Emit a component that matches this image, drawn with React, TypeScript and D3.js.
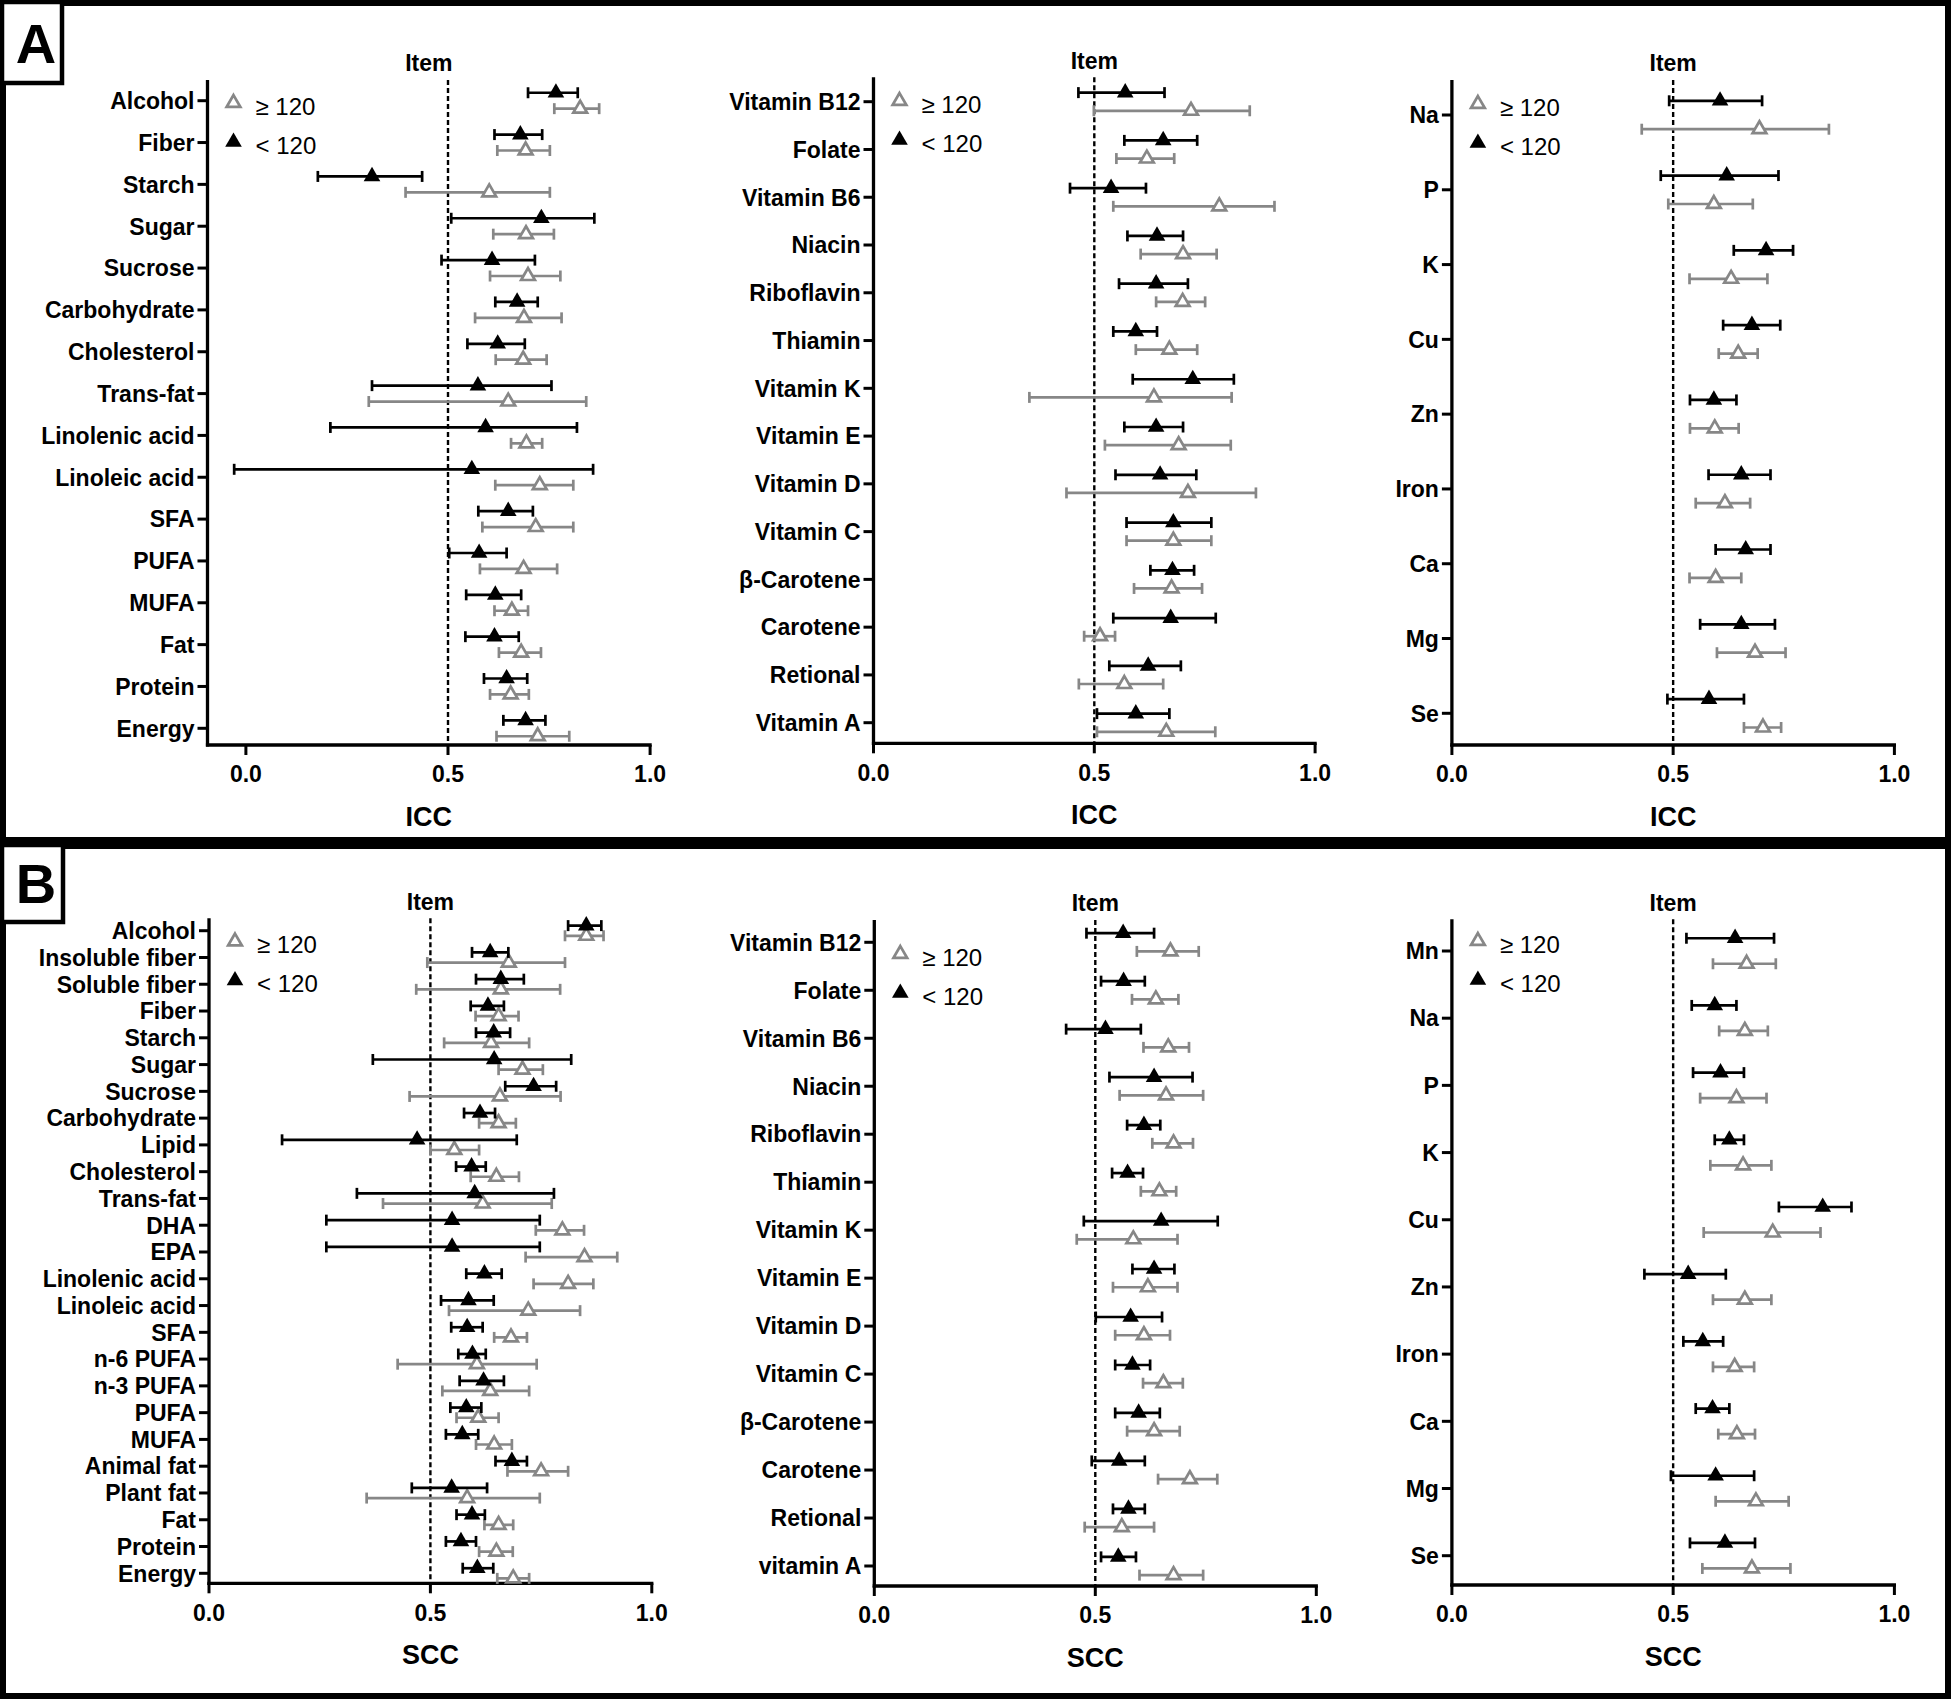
import React from 'react';
import * as d3 from 'd3';

const FONT = '"Liberation Sans", Arial, Helvetica, sans-serif';
const GREY = '#878787';
const BLACK = '#000';

// ---------- Panel A : ICC ----------
// each entry: [lower CI, estimate, upper CI]
const iccMacroItems = ['Alcohol', 'Fiber', 'Starch', 'Sugar', 'Sucrose', 'Carbohydrate', 'Cholesterol', 'Trans-fat', 'Linolenic acid', 'Linoleic acid', 'SFA', 'PUFA', 'MUFA', 'Fat', 'Protein', 'Energy'];
const iccMacroLt = [[0.698, 0.767, 0.821], [0.615, 0.679, 0.733], [0.178, 0.312, 0.436], [0.508, 0.731, 0.862], [0.484, 0.609, 0.715], [0.617, 0.671, 0.722], [0.548, 0.623, 0.69], [0.312, 0.574, 0.756], [0.209, 0.593, 0.819], [-0.029, 0.559, 0.859], [0.575, 0.649, 0.71], [0.503, 0.577, 0.645], [0.545, 0.617, 0.681], [0.543, 0.615, 0.675], [0.589, 0.645, 0.696], [0.637, 0.692, 0.741]];
const iccMacroGe = [[0.763, 0.827, 0.874], [0.622, 0.692, 0.752], [0.395, 0.602, 0.752], [0.612, 0.693, 0.762], [0.604, 0.698, 0.778], [0.567, 0.688, 0.781], [0.618, 0.686, 0.744], [0.304, 0.649, 0.842], [0.656, 0.694, 0.733], [0.617, 0.727, 0.81], [0.585, 0.717, 0.81], [0.579, 0.687, 0.77], [0.615, 0.658, 0.698], [0.626, 0.681, 0.73], [0.604, 0.655, 0.7], [0.62, 0.722, 0.8]];

const iccVitItems = ['Vitamin B12', 'Folate', 'Vitamin B6', 'Niacin', 'Riboflavin', 'Thiamin', 'Vitamin K', 'Vitamin E', 'Vitamin D', 'Vitamin C', 'β-Carotene', 'Carotene', 'Retional', 'Vitamin A'];
const iccVitLt = [[0.464, 0.57, 0.659], [0.568, 0.656, 0.733], [0.445, 0.538, 0.617], [0.575, 0.642, 0.701], [0.556, 0.64, 0.712], [0.543, 0.594, 0.642], [0.587, 0.723, 0.816], [0.568, 0.64, 0.701], [0.548, 0.649, 0.731], [0.573, 0.679, 0.765], [0.627, 0.677, 0.726], [0.543, 0.673, 0.775], [0.534, 0.622, 0.696], [0.506, 0.594, 0.67]];
const iccVitGe = [[0.499, 0.719, 0.852], [0.55, 0.619, 0.681], [0.543, 0.783, 0.908], [0.605, 0.701, 0.777], [0.64, 0.7, 0.751], [0.594, 0.67, 0.733], [0.353, 0.635, 0.811], [0.524, 0.691, 0.809], [0.437, 0.712, 0.866], [0.573, 0.679, 0.765], [0.59, 0.675, 0.744], [0.477, 0.513, 0.547], [0.465, 0.568, 0.656], [0.506, 0.663, 0.774]];

const iccMinItems = ['Na', 'P', 'K', 'Cu', 'Zn', 'Iron', 'Ca', 'Mg', 'Se'];
const iccMinLt = [[0.491, 0.606, 0.701], [0.472, 0.621, 0.738], [0.637, 0.71, 0.771], [0.613, 0.678, 0.742], [0.538, 0.592, 0.643], [0.58, 0.654, 0.72], [0.596, 0.664, 0.72], [0.561, 0.654, 0.73], [0.487, 0.581, 0.66]];
const iccMinGe = [[0.429, 0.695, 0.852], [0.489, 0.592, 0.68], [0.537, 0.631, 0.713], [0.603, 0.647, 0.691], [0.538, 0.594, 0.648], [0.551, 0.617, 0.674], [0.537, 0.596, 0.654], [0.599, 0.685, 0.754], [0.66, 0.703, 0.744]];

// ---------- Panel B : SCC ----------
const sccMacroItems = ['Alcohol', 'Insoluble fiber', 'Soluble fiber', 'Fiber', 'Starch', 'Sugar', 'Sucrose', 'Carbohydrate', 'Lipid', 'Cholesterol', 'Trans-fat', 'DHA', 'EPA', 'Linolenic acid', 'Linoleic acid', 'SFA', 'n-6 PUFA', 'n-3 PUFA', 'PUFA', 'MUFA', 'Animal fat', 'Plant fat', 'Fat', 'Protein', 'Energy'];
const sccMacroLt = [[0.811, 0.852, 0.886], [0.594, 0.635, 0.676], [0.603, 0.659, 0.711], [0.591, 0.63, 0.666], [0.603, 0.643, 0.68], [0.37, 0.644, 0.818], [0.669, 0.733, 0.784], [0.576, 0.612, 0.646], [0.165, 0.47, 0.695], [0.558, 0.593, 0.625], [0.334, 0.6, 0.779], [0.265, 0.549, 0.747], [0.265, 0.549, 0.747], [0.581, 0.622, 0.661], [0.524, 0.586, 0.643], [0.547, 0.583, 0.618], [0.563, 0.595, 0.625], [0.566, 0.62, 0.666], [0.545, 0.581, 0.615], [0.535, 0.572, 0.608], [0.647, 0.684, 0.718], [0.458, 0.548, 0.628], [0.559, 0.594, 0.623], [0.535, 0.569, 0.603], [0.573, 0.606, 0.642]];
const sccMacroGe = [[0.804, 0.852, 0.891], [0.493, 0.677, 0.804], [0.468, 0.659, 0.793], [0.602, 0.654, 0.699], [0.531, 0.637, 0.723], [0.654, 0.708, 0.754], [0.453, 0.657, 0.794], [0.61, 0.654, 0.693], [0.5, 0.554, 0.61], [0.591, 0.649, 0.7], [0.393, 0.618, 0.774], [0.738, 0.798, 0.847], [0.715, 0.848, 0.922], [0.733, 0.811, 0.868], [0.542, 0.721, 0.838], [0.644, 0.682, 0.718], [0.426, 0.605, 0.74], [0.527, 0.635, 0.723], [0.559, 0.608, 0.654], [0.603, 0.644, 0.684], [0.674, 0.75, 0.811], [0.356, 0.583, 0.747], [0.622, 0.654, 0.687], [0.61, 0.649, 0.686], [0.651, 0.687, 0.723]];

const sccVitItems = ['Vitamin B12', 'Folate', 'Vitamin B6', 'Niacin', 'Riboflavin', 'Thiamin', 'Vitamin K', 'Vitamin E', 'Vitamin D', 'Vitamin C', 'β-Carotene', 'Carotene', 'Retional', 'vitamin A'];
const sccVitLt = [[0.48, 0.563, 0.633], [0.513, 0.564, 0.612], [0.434, 0.523, 0.603], [0.532, 0.633, 0.72], [0.572, 0.61, 0.647], [0.538, 0.573, 0.608], [0.474, 0.649, 0.777], [0.584, 0.633, 0.679], [0.501, 0.58, 0.651], [0.545, 0.584, 0.624], [0.545, 0.598, 0.646], [0.492, 0.554, 0.612], [0.54, 0.575, 0.612], [0.513, 0.552, 0.592]];
const sccVitGe = [[0.594, 0.67, 0.734], [0.583, 0.637, 0.688], [0.609, 0.665, 0.712], [0.555, 0.66, 0.744], [0.629, 0.677, 0.721], [0.603, 0.645, 0.683], [0.458, 0.586, 0.686], [0.54, 0.619, 0.686], [0.545, 0.61, 0.669], [0.608, 0.654, 0.698], [0.572, 0.633, 0.691], [0.642, 0.714, 0.776], [0.476, 0.56, 0.633], [0.6, 0.677, 0.744]];

const sccMinItems = ['Mn', 'Na', 'P', 'K', 'Cu', 'Zn', 'Iron', 'Ca', 'Mg', 'Se'];
const sccMinLt = [[0.53, 0.64, 0.728], [0.542, 0.594, 0.643], [0.545, 0.607, 0.66], [0.594, 0.627, 0.66], [0.739, 0.838, 0.903], [0.435, 0.534, 0.619], [0.523, 0.567, 0.613], [0.551, 0.589, 0.627], [0.495, 0.596, 0.683], [0.538, 0.617, 0.685]];
const sccMinGe = [[0.59, 0.666, 0.732], [0.604, 0.662, 0.714], [0.561, 0.643, 0.711], [0.584, 0.658, 0.722], [0.569, 0.725, 0.833], [0.59, 0.662, 0.722], [0.59, 0.639, 0.683], [0.602, 0.644, 0.685], [0.596, 0.687, 0.761], [0.566, 0.678, 0.765]];

const xTicks = [0, 0.5, 1];
const tickFormat = d3.format('.1f');
const legendLabels = ['≥ 120', '< 120'];

type Tri = number[];
interface PanelProps {
  items: string[];
  lt: Tri[];
  ge: Tri[];
  dMin: number;
  px0: number;
  px1: number;
  yTop: number;
  yAxis: number;
  yFirst: number;
  yLast: number;
  legendY: number;
  title: string;
}

const triBig = d3.symbol(d3.symbolTriangle, 120)() as string;
const triOpen = d3.symbol(d3.symbolTriangle, 82)() as string;

function ErrorBar({ x, yc, d, color }: { x: d3.ScaleLinear<number, number>; yc: number; d: Tri; color: string }) {
  const [lo, , hi] = d;
  const cap = 5.5;
  return (
    <g>
      <line x1={x(lo)} x2={x(hi)} y1={yc} y2={yc} stroke={color} strokeWidth={2.7} />
      <line x1={x(lo)} x2={x(lo)} y1={yc - cap} y2={yc + cap} stroke={color} strokeWidth={2.7} />
      <line x1={x(hi)} x2={x(hi)} y1={yc - cap} y2={yc + cap} stroke={color} strokeWidth={2.7} />
    </g>
  );
}

function Panel(p: PanelProps) {
  const x = d3.scaleLinear().domain([p.dMin, 1]).range([p.px0, p.px1]);
  const y = d3.scalePoint<string>().domain(p.items).range([p.yFirst, p.yLast]);
  const off = y.step() * 0.19;
  const ax = x(p.dMin);
  const xEnd = x(1);
  const mid = (ax + xEnd) / 2;
  const lx = ax + 26;
  return (
    <g fontFamily={FONT}>
      {/* reference line */}
      <line x1={x(0.5)} x2={x(0.5)} y1={p.yTop} y2={p.yAxis} stroke={BLACK} strokeWidth={2.4} strokeDasharray="5,3" />
      {/* y axis */}
      <line x1={ax} x2={ax} y1={p.yTop} y2={p.yAxis + 1.6} stroke={BLACK} strokeWidth={3.3} />
      {p.items.map((it) => (
        <g key={it}>
          <line x1={ax - 10} x2={ax} y1={y(it)} y2={y(it)} stroke={BLACK} strokeWidth={3} />
          <text x={ax - 13} y={y(it)} dy="0.36em" textAnchor="end" fontSize={23} fontWeight="bold">{it}</text>
        </g>
      ))}
      {/* x axis */}
      <line x1={ax - 1.6} x2={xEnd + 1.6} y1={p.yAxis} y2={p.yAxis} stroke={BLACK} strokeWidth={3.3} />
      {xTicks.map((t) => (
        <g key={t}>
          <line x1={x(t)} x2={x(t)} y1={p.yAxis} y2={p.yAxis + 10} stroke={BLACK} strokeWidth={3} />
          <text x={x(t)} y={p.yAxis + 29} dy="0.36em" textAnchor="middle" fontSize={23} fontWeight="bold">{tickFormat(t)}</text>
        </g>
      ))}
      <text x={mid} y={p.yTop - 17} dy="0.36em" textAnchor="middle" fontSize={23} fontWeight="bold">Item</text>
      <text x={mid} y={p.yAxis + 71} dy="0.36em" textAnchor="middle" fontSize={27} fontWeight="bold">{p.title}</text>
      {/* data: grey (>= 120) below, black (< 120) above */}
      {p.items.map((it, i) => {
        const yc = y(it) as number;
        const g = p.ge[i];
        const l = p.lt[i];
        return (
          <g key={'d' + it}>
            <ErrorBar x={x} yc={yc + off} d={g} color={GREY} />
            <path d={triOpen} transform={`translate(${x(g[1])},${yc + off})`} fill="#fff" stroke={GREY} strokeWidth={2.7} />
            <ErrorBar x={x} yc={yc - off} d={l} color={BLACK} />
            <path d={triBig} transform={`translate(${x(l[1])},${yc - off})`} fill={BLACK} />
          </g>
        );
      })}
      {/* legend */}
      <path d={triOpen} transform={`translate(${lx},${p.legendY})`} fill="#fff" stroke={GREY} strokeWidth={2.7} />
      <text x={lx + 22} y={p.legendY + 3} dy="0.36em" fontSize={24}>{legendLabels[0]}</text>
      <path d={triBig} transform={`translate(${lx},${p.legendY + 39})`} fill={BLACK} />
      <text x={lx + 22} y={p.legendY + 42} dy="0.36em" fontSize={24}>{legendLabels[1]}</text>
    </g>
  );
}

export default function App() {
  return (
    <svg width={1952} height={1701} style={{ position: 'absolute', left: 0, top: 0, background: '#fff' }}>
      <rect x={0} y={0} width={1952} height={1701} fill="#fff" />
      {/* frames */}
      <rect x={3} y={3} width={1945} height={837} fill="none" stroke={BLACK} strokeWidth={6} />
      <rect x={3} y={846} width={1945} height={850} fill="none" stroke={BLACK} strokeWidth={6} />
      <rect x={2} y={2} width={60} height={81} fill="#fff" stroke={BLACK} strokeWidth={4.5} />
      <text x={36} y={63} textAnchor="middle" fontFamily={FONT} fontWeight="bold" fontSize={56}>A</text>
      <rect x={2} y={845} width={61} height={77} fill="#fff" stroke={BLACK} strokeWidth={4.5} />
      <text x={36} y={903} textAnchor="middle" fontFamily={FONT} fontWeight="bold" fontSize={56}>B</text>

      <Panel items={iccMacroItems} lt={iccMacroLt} ge={iccMacroGe} dMin={-0.095} px0={207.5} px1={650.1} yTop={80} yAxis={745} yFirst={100.7} yLast={728.3} legendY={103} title="ICC" />
      <Panel items={iccVitItems} lt={iccVitLt} ge={iccVitGe} dMin={0} px0={873.5} px1={1315.1} yTop={77.3} yAxis={743.3} yFirst={101.7} yLast={722.7} legendY={101} title="ICC" />
      <Panel items={iccMinItems} lt={iccMinLt} ge={iccMinGe} dMin={0} px0={1451.9} px1={1894.4} yTop={80} yAxis={745} yFirst={115} yLast={713.3} legendY={104} title="ICC" />

      <Panel items={sccMacroItems} lt={sccMacroLt} ge={sccMacroGe} dMin={0} px0={209} px1={651.8} yTop={918.3} yAxis={1583.3} yFirst={930.7} yLast={1573.3} legendY={941.5} title="SCC" />
      <Panel items={sccVitItems} lt={sccVitLt} ge={sccVitGe} dMin={0} px0={874.3} px1={1316.3} yTop={920} yAxis={1586} yFirst={942.3} yLast={1566} legendY={954} title="SCC" />
      <Panel items={sccMinItems} lt={sccMinLt} ge={sccMinGe} dMin={0} px0={1451.9} px1={1894.4} yTop={919.3} yAxis={1585} yFirst={951} yLast={1555.7} legendY={941} title="SCC" />
    </svg>
  );
}
